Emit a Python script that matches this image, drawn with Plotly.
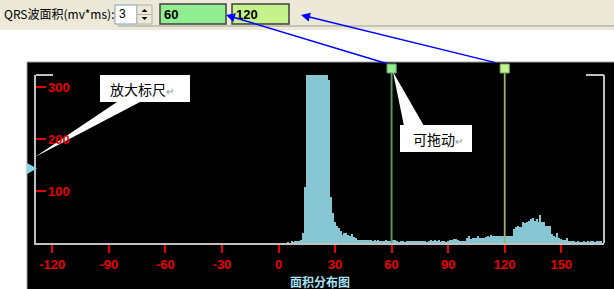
import plotly.graph_objects as go

# ---------------- data ----------------
area_start = 5
counts = (
    [1, 0, 2, 1, 2, 3, 4, 6, 19, 108]
    + [325] * 12
    + [313, 89, 58, 40, 33, 28, 23, 15, 19, 20, 15, 14, 17, 12, 9, 6, 5, 6, 5, 5,
       6, 5, 5, 4, 5, 3, 5, 3, 4, 3, 5, 4, 4, 5, 6, 5, 2, 1, 2, 2,
       1, 2, 4, 4, 3, 4, 3, 4, 2, 4, 3, 4, 1, 4, 5, 3, 6, 3, 5, 1,
       2, 4, 1, 4, 6, 5, 7, 8, 6, 4, 4, 4, 4, 9, 14, 8, 9, 10, 9, 13,
       10, 10, 9, 12, 14, 11, 15, 13, 14, 13, 14, 14, 13, 13, 13, 13, 14, 14, 27, 30,
       33, 31, 30, 40, 38, 41, 43, 46, 49, 43, 46, 40, 54, 40, 41, 33, 32, 32, 17, 13,
       11, 20, 9, 8, 6, 6, 9, 3, 4, 4, 2, 1, 2, 1, 1, 2, 1, 2, 1, 2,
       2, 1, 2, 4, 3]
)
area_bins = list(range(area_start, area_start + len(counts)))

x_ticks = [-120, -90, -60, -30, 0, 30, 60, 90, 120, 150]
y_ticks = [100, 200, 300]
cursor_values = [60, 120]
cursor_labels = ["60", "120"]
spin_value = "3"
toolbar_label = "QRS波面积(mv*ms):"
x_title = "面积分布图"
callout_zoom = "放大标尺"
callout_drag = "可拖动"

# ---------------- layout helpers (pixel -> paper) ----------------
L, R, T, B = 36, 604, 75, 243
def px(x):
    return (x - L) / (R - L)
def py(y):
    return (B - y) / (B - T)

RED = "#E80000"
GRAY = "#C0C0C0"

fig = go.Figure()
fig.add_trace(go.Bar(
    x=area_bins, y=counts,
    marker=dict(color="#86C6D2", line=dict(width=0)),
    width=0.6, hoverinfo="skip",
))

shapes = []
def rect(x0, y0, x1, y1, fill, line=None, lw=1, layer="above"):
    shapes.append(dict(type="rect", xref="paper", yref="paper",
                       x0=px(x0), x1=px(x1), y0=py(y0), y1=py(y1),
                       fillcolor=fill, line=dict(color=line or fill, width=lw if line else 0),
                       layer=layer))
def seg(x0, y0, x1, y1, color, w=1, layer="above"):
    shapes.append(dict(type="line", xref="paper", yref="paper",
                       x0=px(x0), x1=px(x1), y0=py(y0), y1=py(y1),
                       line=dict(color=color, width=w), layer=layer))
def poly(pts, fill, layer="above"):
    path = "M " + " L ".join(f"{px(a)},{py(b)}" for a, b in pts) + " Z"
    shapes.append(dict(type="path", xref="paper", yref="paper", path=path,
                       fillcolor=fill, line=dict(width=0), layer=layer))

# background panels
rect(0, 0, 614, 30, "#ECE9D8", layer="below")
seg(118, 26, 614, 26, "#9D9D92", 1.2, layer="below")
rect(27, 62, 614, 289, "#000000", layer="below")
seg(27, 62, 614, 62, "#A0A0A0", 1, layer="below")
seg(27, 62, 27, 289, "#A0A0A0", 1, layer="below")

# frame pieces
seg(L, T, 53, T, GRAY, 2)
seg(586, T, R, T, GRAY, 2)
seg(R, T, R, B, GRAY, 2)

# toolbar widgets
rect(115, 5, 137, 24, "#FFFFFF", "#7F9DB9", 1)
rect(137, 5, 152, 24, "#ECE9D8", "#B0B0A8", 1)
seg(137, 14.5, 152, 14.5, "#B0B0A8", 1)
poly([(141.5, 12), (147.5, 12), (144.5, 9)], "#000000")
poly([(141.5, 17), (147.5, 17), (144.5, 20)], "#000000")
box_fills = ["#90EE90", "#C6F28C"]
box_x = [(160, 226), (232, 289)]
for (bx0, bx1), fc in zip(box_x, box_fills):
    rect(bx0, 4, bx1, 24, fc, "#404040", 1.5)

# cursors (vertical lines + drag squares) positioned on the data axis
line_cols = ["#5E9E5E", "#9BB068"]
sq_half = 4.6 / 1.885
for v, fc, lc in zip(cursor_values, box_fills, line_cols):
    shapes.append(dict(type="line", xref="x", yref="paper", x0=v, x1=v,
                       y0=0, y1=py(73), line=dict(color=lc, width=1.8), layer="above"))
    shapes.append(dict(type="rect", xref="x", yref="paper", x0=v - sq_half, x1=v + sq_half,
                       y0=py(73), y1=py(64), fillcolor=fc,
                       line=dict(color="#6A9A6A", width=1), layer="above"))

# slider triangle on the left
poly([(27, 163), (27, 174), (37, 168.5)], "#8AD6EE")

annotations = []

# y tick labels (inside the frame, right of the red ticks)
for v in y_ticks:
    annotations.append(dict(xref="paper", yref="y", x=px(46), y=v, text=str(v),
                            showarrow=False, xanchor="left", yanchor="middle",
                            font=dict(family="Liberation Sans", size=13, color=RED, weight="bold")))

# callout boxes and wedges (drawn above the labels)
poly([(117, 102), (140, 102), (35, 157)], "#FFFFFF")
rect(100, 75, 190, 102, "#FFFFFF")
poly([(393, 72), (404, 126), (424, 126)], "#FFFFFF")
rect(400, 125, 472, 152, "#FFFFFF")

def text(x, y, s, size, color="#000000", family="Noto Sans CJK SC", anchor="left", weight="normal"):
    annotations.append(dict(xref="paper", yref="paper", x=px(x), y=py(y), text=s,
                            showarrow=False, xanchor=anchor, yanchor="middle",
                            font=dict(size=size, color=color, family=family, weight=weight)))

text(2, 14, toolbar_label, 12)
text(117, 14.5, spin_value, 12, family="Liberation Sans")
for (bx0, bx1), s in zip(box_x, cursor_labels):
    text(bx0 + 2, 14.5, s, 13, family="Liberation Sans", weight="bold")

text(108, 88.5, callout_zoom + '<span style="color:#909090;font-size:10px">↵</span>', 14)
text(411, 138.5, callout_drag + '<span style="color:#909090;font-size:10px">↵</span>', 14)
text(320, 281, x_title, 12, color="#A8E2F2", anchor="center", weight="bold")

# blue arrows from the cursors to their value boxes
for (hx, hy), (tx, ty) in [((226, 15), (388, 64)), ((301, 15), (497, 63))]:
    annotations.append(dict(xref="paper", yref="paper", x=px(hx), y=py(hy),
                            ax=tx - hx, ay=ty - hy, axref="pixel", ayref="pixel",
                            showarrow=True, arrowhead=2, arrowsize=1.2, arrowwidth=1.5,
                            arrowcolor="#0000FF", text=""))

x0u = (L - 278.5) / 1.885
x1u = (R - 278.5) / 1.885
y1u = (B - T) / 0.52

fig.update_layout(
    width=614, height=289,
    margin=dict(l=L, r=614 - R, t=T, b=289 - B, autoexpand=False),
    paper_bgcolor="#FFFFFF", plot_bgcolor="#000000",
    showlegend=False, bargap=0,
    shapes=shapes, annotations=annotations,
    xaxis=dict(range=[x0u, x1u], tickvals=x_ticks, ticktext=[str(t) for t in x_ticks],
               ticks="outside", ticklen=8, tickwidth=1.5, tickcolor=RED,
               tickfont=dict(family="Liberation Sans", size=13, color=RED, weight="bold"),
               showline=True, linecolor=GRAY, linewidth=2, showgrid=False, zeroline=False,
               fixedrange=True),
    yaxis=dict(range=[0, y1u], tickvals=y_ticks, showticklabels=False,
               ticks="inside", ticklen=10, tickwidth=1.5, tickcolor=RED,
               showline=True, linecolor=GRAY, linewidth=2, showgrid=False, zeroline=False,
               fixedrange=True),
)

fig.write_html("out.html")
